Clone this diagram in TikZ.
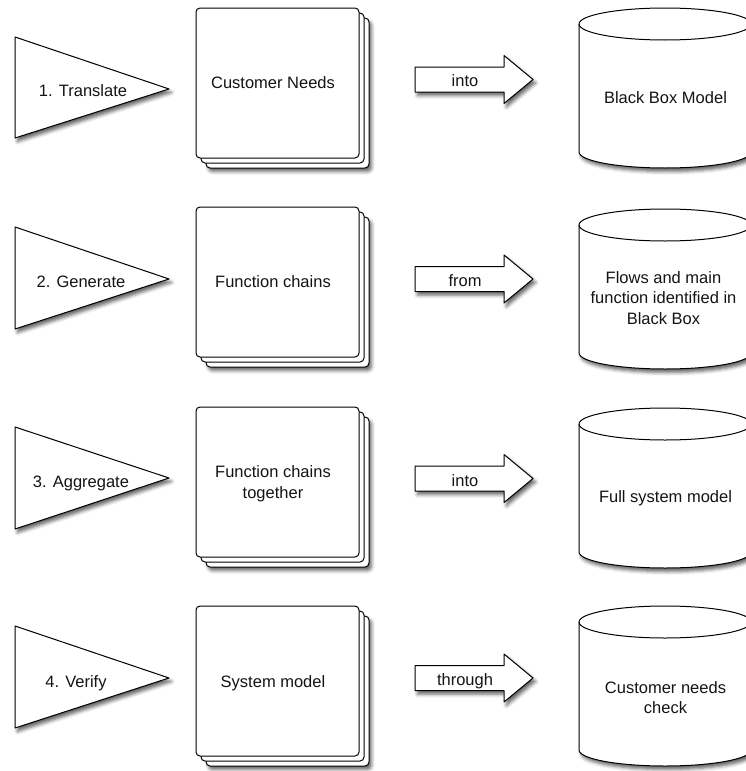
\documentclass[tikz,border=0pt]{standalone}
\usepackage{fontspec}
\setmainfont{Liberation Sans}
\usetikzlibrary{shadows.blur}
\begin{document}
\begin{tikzpicture}[x=1pt,y=-1pt,
  outl/.style={draw=black, line width=1pt, fill=white, line join=round},
  shad/.style={blur shadow={shadow xshift=2.5pt, shadow yshift=-3.5pt, shadow blur radius=3.5pt, shadow opacity=62}},
  page/.style={outl, rounded corners=4pt},
  lbl/.style={font=\fontsize{16.5}{20.5}\selectfont, text=black!92, align=center, inner sep=0pt},
  one/.style={lbl, text height=11.8pt, text depth=0pt}
]
\useasboundingbox (0,0) rectangle (746,771);
\clip (0,0) rectangle (746,771);

\foreach \ra/\rb/\rc/\bt/\ac/\ct in {37/138/89/8/79.5/8, 227/329/279/207/279/209, 427/529/478/407/478.5/408, 626/728/678/606/678/606}{
  % triangle
  \draw[outl, shad] (15,\ra) -- (169,\rc) -- (15,\rb) -- cycle;
  % stacked pages
  \draw[page, shad] (206,\bt+10) rectangle ++(163,150);
  \draw[page] (201,\bt+5) rectangle ++(163,150);
  \draw[page] (196,\bt) rectangle ++(163,150);
  % block arrow
  \draw[outl, shad] (415,\ac-12.5) -- (504,\ac-12.5) -- (504,\ac-24) -- (533,\ac)
     -- (504,\ac+24) -- (504,\ac+12.5) -- (415,\ac+12.5) -- cycle;
  % cylinder
  \draw[outl, shad] (579,\ct+16) -- (579,\ct+144) arc[start angle=180, end angle=360, x radius=86pt, y radius=16pt]
     -- (751,\ct+16) arc[start angle=0, end angle=180, x radius=86pt, y radius=16pt] -- cycle;
  \draw[line width=1pt] (579,\ct+16) arc[start angle=180, end angle=360, x radius=86pt, y radius=16pt];
}

% triangle labels
\node[one] (t1) at (83,90.5) {1. Translate};
\node[one] (t2) at (81,281.5) {2. Generate};
\node[one] (t3) at (81,481.5) {3. Aggregate};
\node[one] (t4) at (76,681.5) {4. Verify};
% page labels
\node[one] (b1) at (273,83) {Customer Needs};
\node[one] (b2) at (273,281.7) {Function chains};
\node[lbl] (b3) at (273,483.9) {Function chains\\together};
\node[one] (b4) at (273,681.7) {System model};
% arrow labels
\node[one] (a1) at (465,81) {into};
\node[one] (a2) at (465,281) {from};
\node[one] (a3) at (465,480.5) {into};
\node[one] (a4) at (465,680) {through};
% cylinder labels
\node[one] (c1) at (665.5,98) {Black Box Model};
\node[lbl] (c2) at (663.5,298) {Flows and main\\function identified in\\Black Box};
\node[one] (c3) at (665.5,497) {Full system model};
\node[lbl] (c4) at (665.5,697.5) {Customer needs\\check};
\end{tikzpicture}
\end{document}
